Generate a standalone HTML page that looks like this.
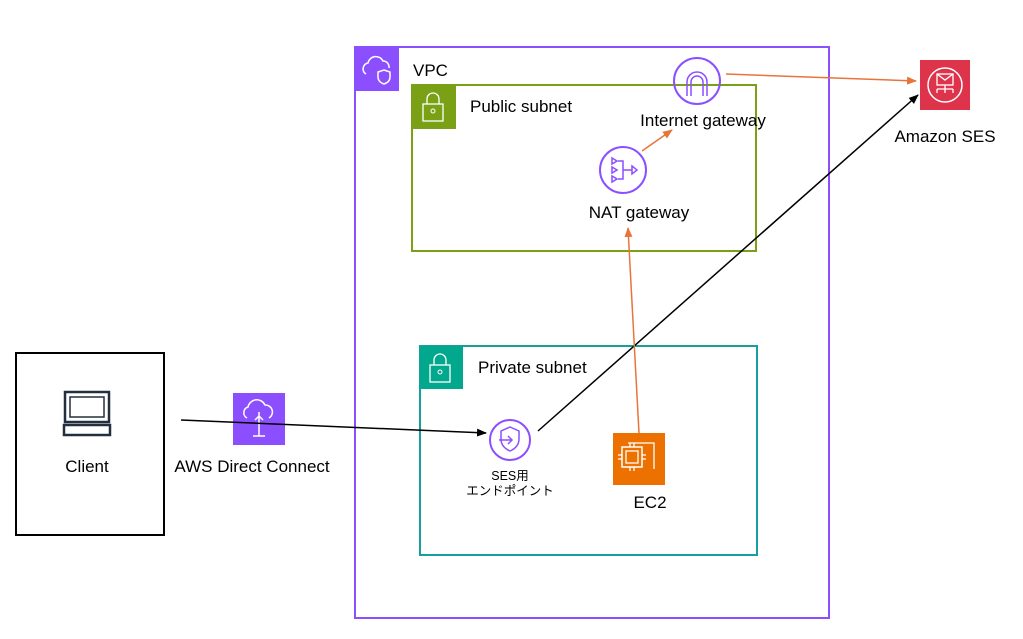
<!DOCTYPE html>
<html><head><meta charset="utf-8"><style>
body{margin:0;background:#fff;width:1023px;height:634px;overflow:hidden;font-family:"Liberation Sans","Noto Sans CJK JP",sans-serif}
</style></head><body>
<svg width="1023" height="634" xmlns="http://www.w3.org/2000/svg" font-family="Liberation Sans, Noto Sans CJK JP, sans-serif">
<defs>
<marker id="ab" markerWidth="10" markerHeight="10" refX="9" refY="5" orient="auto" markerUnits="userSpaceOnUse"><path d="M0,1 L10,5 L0,9 Z" fill="#000"/></marker>
<marker id="ao" markerWidth="10" markerHeight="10" refX="9" refY="5" orient="auto" markerUnits="userSpaceOnUse"><path d="M0,1 L10,5 L0,9 Z" fill="#e8743b"/></marker>
</defs>
<rect x="355" y="47" width="474" height="571" fill="none" stroke="#8c4fff" stroke-width="2"/>
<rect x="355" y="47" width="44" height="44" fill="#8c4fff"/>
<path d="M366 74 a6 6 0 0 1 2-11 a8 8 0 0 1 15-2 a6 6 0 0 1 6 7" fill="none" stroke="#fff" stroke-width="1.5"/>
<path d="M384 70 l6 2 v5 q0 5-6 7 q-6-2-6-7 v-5z" fill="none" stroke="#fff" stroke-width="1.5"/>
<text x="413" y="76" font-size="17">VPC</text>
<rect x="412" y="85" width="344" height="166" fill="none" stroke="#7aa116" stroke-width="2"/>
<rect x="412" y="85" width="44" height="44" fill="#7aa116"/>
<rect x="423" y="104" width="20" height="17" fill="none" stroke="#fff" stroke-width="1.3"/>
<path d="M427 104 v-5 a6 6 0 0 1 12 0 v5" fill="none" stroke="#fff" stroke-width="1.3"/>
<circle cx="433" cy="111" r="2" fill="none" stroke="#fff"/>
<text x="470" y="112" font-size="17">Public subnet</text>
<rect x="420" y="346" width="337" height="209" fill="none" stroke="#179e9e" stroke-width="2"/>
<rect x="420" y="346" width="43" height="43" fill="#01a88d"/>
<rect x="430" y="365" width="20" height="17" fill="none" stroke="#fff" stroke-width="1.3"/>
<path d="M434 365 v-5 a6 6 0 0 1 12 0 v5" fill="none" stroke="#fff" stroke-width="1.3"/>
<circle cx="440" cy="372" r="2" fill="none" stroke="#fff"/>
<text x="478" y="373" font-size="17">Private subnet</text>
<rect x="16" y="353" width="148" height="182" fill="none" stroke="#000" stroke-width="2"/>
<rect x="65" y="392" width="44" height="30" fill="none" stroke="#232f3e" stroke-width="2.5"/>
<rect x="70" y="397" width="34" height="20" fill="none" stroke="#232f3e" stroke-width="1.5"/>
<rect x="64" y="425" width="46" height="10" fill="none" stroke="#232f3e" stroke-width="2.5"/>
<text x="87" y="472" font-size="17" text-anchor="middle">Client</text>
<rect x="233" y="393" width="52" height="52" fill="#8c4fff"/>
<path d="M247 418 a6 6 0 0 1 1-11 a9 9 0 0 1 17-2 a7 7 0 0 1 4 13" fill="none" stroke="#fff" stroke-width="1.5"/>
<path d="M259 412 v24 M253 436 h12 M255 420 l4 -4 l4 4" fill="none" stroke="#fff" stroke-width="1.5"/>
<text x="252" y="472" font-size="17" text-anchor="middle">AWS Direct Connect</text>
<circle cx="697" cy="81" r="23" fill="none" stroke="#8c4fff" stroke-width="2"/>
<path d="M687 96 v-14 a10 10 0 0 1 20 0 v14 M691 96 v-14 a6 6 0 0 1 12 0 v14" fill="none" stroke="#8c4fff" stroke-width="1.5"/>
<text x="703" y="126" font-size="17" text-anchor="middle">Internet gateway</text>
<circle cx="623" cy="170" r="23" fill="none" stroke="#8c4fff" stroke-width="2"/>
<path d="M612 158 l5 3 l-5 3z M612 167 l5 3 l-5 3z M612 176 l5 3 l-5 3z M618 161 h5 v18 h-5 M623 170 h9 M632 166 l5 4 l-5 4z" fill="none" stroke="#8c4fff" stroke-width="1.5"/>
<text x="639" y="218" font-size="17" text-anchor="middle">NAT gateway</text>
<rect x="920" y="60" width="50" height="50" fill="#dd344c"/>
<circle cx="945" cy="85" r="17" fill="none" stroke="#fff" stroke-width="1.5"/>
<rect x="937" y="74" width="16" height="11" fill="none" stroke="#fff" stroke-width="1.3"/>
<path d="M937 74 l8 6 l8-6 M945 85 v8 M937 89 v4 M953 89 v4 M937 89 h16" fill="none" stroke="#fff" stroke-width="1.3"/>
<text x="945" y="142" font-size="17" text-anchor="middle">Amazon SES</text>
<circle cx="510" cy="440" r="20" fill="none" stroke="#8c4fff" stroke-width="2"/>
<path d="M510 427 l9 4 v8 q0 8-9 12 q-9-4-9-12 v-8z" fill="none" stroke="#8c4fff" stroke-width="1.5"/>
<path d="M499 440 h13 M508 436 l4 4 l-4 4" fill="none" stroke="#8c4fff" stroke-width="1.5"/>
<text x="510" y="480" font-size="12.5" text-anchor="middle">SES用</text>
<text x="510" y="495" font-size="12.5" text-anchor="middle">エンドポイント</text>
<rect x="613" y="433" width="52" height="52" fill="#ed7100"/>
<rect x="622" y="447" width="20" height="20" fill="none" stroke="#fff" stroke-width="1.5"/>
<rect x="626" y="451" width="12" height="12" fill="none" stroke="#fff" stroke-width="1.3"/>
<path d="M630 443 v4 M634 443 v4 M630 467 v4 M634 467 v4 M618 455 h4 M618 459 h4 M642 455 h4 M642 459 h4 M628 443 h26 v26" fill="none" stroke="#fff" stroke-width="1.3"/>
<text x="650" y="508" font-size="17" text-anchor="middle">EC2</text>
<line x1="181" y1="420" x2="486" y2="433" stroke="#000" stroke-width="1.5" marker-end="url(#ab)"/>
<line x1="538" y1="431" x2="918" y2="95" stroke="#000" stroke-width="1.5" marker-end="url(#ab)"/>
<line x1="639" y1="433" x2="628" y2="228" stroke="#e8743b" stroke-width="1.5" marker-end="url(#ao)"/>
<line x1="642" y1="151" x2="672" y2="130" stroke="#e8743b" stroke-width="1.5" marker-end="url(#ao)"/>
<line x1="726" y1="74" x2="916" y2="81" stroke="#e8743b" stroke-width="1.5" marker-end="url(#ao)"/>
</svg>
</body></html>
